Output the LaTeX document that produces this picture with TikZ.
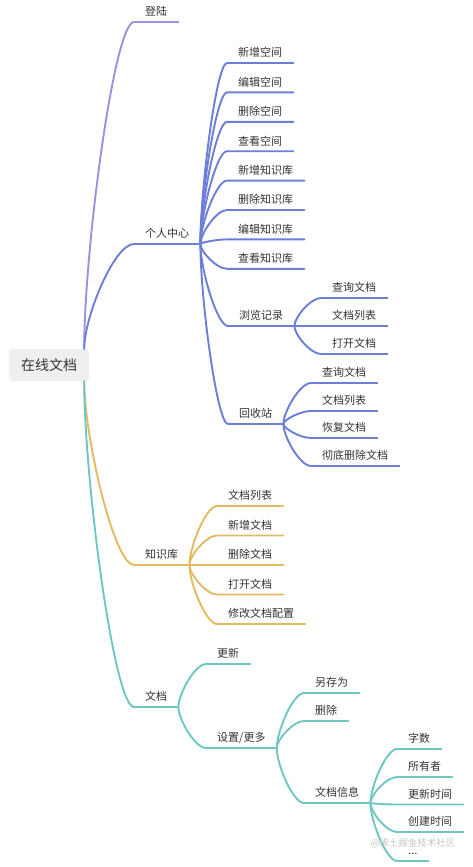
\documentclass[tikz,border=0pt]{standalone}
\usepackage{fontspec}
\usepackage{xcolor}
\usepackage{tikz}
\usetikzlibrary{calc}
\newfontfamily\cjk{Noto Sans CJK SC}
\definecolor{MMPurple}{HTML}{9E8FE0}
\definecolor{MMBlue}{HTML}{6C7ED8}
\definecolor{MMYellow}{HTML}{E2BA60}
\definecolor{MMTeal}{HTML}{6EC7C3}
\definecolor{MMText}{HTML}{333333}
\definecolor{MMRoot}{HTML}{EFEFEF}

\tikzset{
  topic/.style={anchor=south west,inner xsep=11pt,inner ysep=4pt,text height=9pt,text depth=2pt,
    font=\cjk\fontsize{11}{13}\selectfont,text=MMText},
  roottopic/.style={fill=MMRoot,rounded corners=3pt,minimum width=80pt,minimum height=32pt,inner sep=0pt,
    font=\cjk\fontsize{14}{16}\selectfont,text=MMText},
  mmline/.style={line width=1.9pt,line cap=round,line join=round},
}
% curve from a parent point to the child topic, then under the child text
\newcommand\mmlink[3]{%
  \draw[mmline,#3] let \p1=(#1), \p2=(#2.south west) in
    (\p1) .. controls (\x1,{\y1+0.3*(\y2-\y1)}) and ({\x1+0.6*(\x2-\x1)},\y2) .. (\p2) -- (#2.south east);}

\begin{document}
\begin{tikzpicture}[x=1pt,y=-1pt]
\path[use as bounding box] (0,0) rectangle (473,867);
\node[roottopic] (zaixian) at (49,365) {在线文档};
% first level
\node[topic] (denglu) at (134,22) {登陆};
\node[topic] (geren) at (134,244) {个人中心};
\node[topic] (zhishiku) at (134,565) {知识库};
\node[topic] (wendang) at (134,707) {文档};
\mmlink{$(zaixian.north east)+(-5,0)$}{denglu}{MMPurple}
\mmlink{$(zaixian.north east)+(-5,0)$}{geren}{MMBlue}
\mmlink{$(zaixian.south east)+(-5,0)$}{zhishiku}{MMYellow}
\mmlink{$(zaixian.south east)+(-5,0)$}{wendang}{MMTeal}
% personal centre
\node[topic] (xinzengkj) at (227,63) {新增空间};
\node[topic] (bianjikj) at (227,92.4) {编辑空间};
\node[topic] (shanchukj) at (227,121.8) {删除空间};
\node[topic] (chakankj) at (227,151.2) {查看空间};
\node[topic] (xinzengzsk) at (227,180.6) {新增知识库};
\node[topic] (shanchuzsk) at (227,210) {删除知识库};
\node[topic] (bianjizsk) at (227,239.4) {编辑知识库};
\node[topic] (chakanzsk) at (227,268.8) {查看知识库};
\node[topic] (liulan) at (228,326) {浏览记录};
\node[topic] (huishou) at (228,424) {回收站};
\mmlink{geren.south east}{xinzengkj}{MMBlue}
\mmlink{geren.south east}{bianjikj}{MMBlue}
\mmlink{geren.south east}{shanchukj}{MMBlue}
\mmlink{geren.south east}{chakankj}{MMBlue}
\mmlink{geren.south east}{xinzengzsk}{MMBlue}
\mmlink{geren.south east}{shanchuzsk}{MMBlue}
\mmlink{geren.south east}{bianjizsk}{MMBlue}
\mmlink{geren.south east}{chakanzsk}{MMBlue}
\mmlink{geren.south east}{liulan}{MMBlue}
\mmlink{geren.south east}{huishou}{MMBlue}
\node[topic] (llChaxun) at (321,298) {查询文档};
\node[topic] (llLiebiao) at (321,326) {文档列表};
\node[topic] (llDakai) at (321,354) {打开文档};
\mmlink{liulan.south east}{llChaxun}{MMBlue}
\mmlink{liulan.south east}{llLiebiao}{MMBlue}
\mmlink{liulan.south east}{llDakai}{MMBlue}
\node[topic] (hsChaxun) at (311,383) {查询文档};
\node[topic] (hsLiebiao) at (311,411) {文档列表};
\node[topic] (hsHuifu) at (311,438) {恢复文档};
\node[topic] (hsShanchu) at (311,466) {彻底删除文档};
\mmlink{huishou.south east}{hsChaxun}{MMBlue}
\mmlink{huishou.south east}{hsLiebiao}{MMBlue}
\mmlink{huishou.south east}{hsHuifu}{MMBlue}
\mmlink{huishou.south east}{hsShanchu}{MMBlue}
% knowledge base
\node[topic] (zsLiebiao) at (217,506) {文档列表};
\node[topic] (zsXinzeng) at (217,535.5) {新增文档};
\node[topic] (zsShanchu) at (217,565) {删除文档};
\node[topic] (zsDakai) at (217,594.5) {打开文档};
\node[topic] (zsXiugai) at (217,624) {修改文档配置};
\mmlink{zhishiku.south east}{zsLiebiao}{MMYellow}
\mmlink{zhishiku.south east}{zsXinzeng}{MMYellow}
\mmlink{zhishiku.south east}{zsShanchu}{MMYellow}
\mmlink{zhishiku.south east}{zsDakai}{MMYellow}
\mmlink{zhishiku.south east}{zsXiugai}{MMYellow}
% document
\node[topic] (gengxin) at (206,664) {更新};
\node[topic] (shezhi) at (206,748) {设置/更多};
\mmlink{wendang.south east}{gengxin}{MMTeal}
\mmlink{wendang.south east}{shezhi}{MMTeal}
\node[topic] (lingcun) at (304,693) {另存为};
\node[topic] (shanchu) at (304,721) {删除};
\node[topic] (xinxi) at (304,803) {文档信息};
\mmlink{shezhi.south east}{lingcun}{MMTeal}
\mmlink{shezhi.south east}{shanchu}{MMTeal}
\mmlink{shezhi.south east}{xinxi}{MMTeal}
\node[topic] (zishu) at (397,749) {字数};
\node[topic] (suoyou) at (397,777) {所有者};
\node[topic] (gengxinsj) at (397,804.5) {更新时间};
\node[topic] (chuangjian) at (397,832) {创建时间};
\node[topic,text height=2pt] (gengduo) at (397,861) {...};
\mmlink{xinxi.south east}{zishu}{MMTeal}
\mmlink{xinxi.south east}{suoyou}{MMTeal}
\mmlink{xinxi.south east}{gengxinsj}{MMTeal}
\mmlink{xinxi.south east}{chuangjian}{MMTeal}
\mmlink{xinxi.south east}{gengduo}{MMTeal}
\node[font=\cjk\fontsize{9.5}{11}\selectfont,text=gray!45] (shuiyin) at (413,843.5) {@稀土掘金技术社区};
\end{tikzpicture}
\end{document}
